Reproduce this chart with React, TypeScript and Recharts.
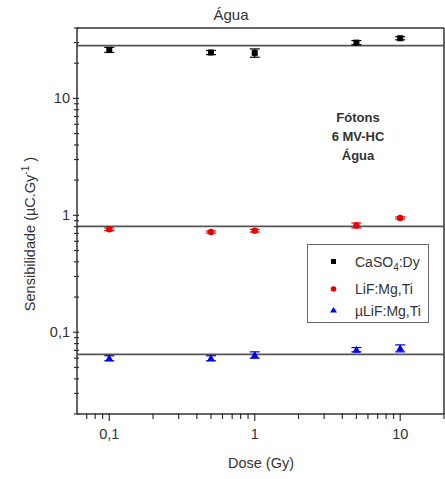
import React from 'react';
import { ComposedChart, Scatter, XAxis, YAxis, ErrorBar, ReferenceLine, Legend } from 'recharts';

const doses = [0.1, 0.5, 1, 5, 10];
const caso4 = [26, 24.7, 24.5, 30, 32.7];
const caso4Err = [1.3, 1.0, 2.0, 1.2, 1.0];
const lif = [0.76, 0.72, 0.74, 0.82, 0.95];
const lifErr = [0.02, 0.015, 0.02, 0.04, 0.02];
const ulif = [0.06, 0.06, 0.064, 0.071, 0.073];
const ulifErr = [0.003, 0.003, 0.004, 0.003, 0.005];
const fitLevels = [28.3, 0.805, 0.0648];

const xTicks = [0.07, 0.08, 0.09, 0.1, 0.2, 0.3, 0.4, 0.5, 0.6, 0.7, 0.8, 0.9, 1, 2, 3, 4, 5, 6, 7, 8, 9, 10, 20];
const yTicks = [0.02, 0.03, 0.04, 0.05, 0.06, 0.07, 0.08, 0.09, 0.1, 0.2, 0.3, 0.4, 0.5, 0.6, 0.7, 0.8, 0.9, 1, 2, 3, 4, 5, 6, 7, 8, 9, 10, 20, 30, 40];
const frameTicks = [1, 2, 3, 4, 5, 6, 7, 8, 9];
const majorTicks = [0.1, 1, 10];

const AXIS = '#333';
const FONT = '"Liberation Sans", Arial, sans-serif';

const toData = (vals: number[], errs: number[]) => doses.map((d, i) => ({ dose: d, value: vals[i], err: errs[i] }));

const fmt = (v: number) => String(v).replace('.', ',');

const LeftTick = ({ x, y, payload }: any) => {
  const major = majorTicks.includes(payload.value);
  return (
    <g>
      <line x1={x - (major ? 4 : 3)} x2={x + 2} y1={y} y2={y} stroke={AXIS} strokeWidth={1.2} />
      {major && (
        <text x={x - 7} y={y + 5} textAnchor="end" fontSize={14.5} fill={AXIS} fontFamily={FONT}>
          {fmt(payload.value)}
        </text>
      )}
    </g>
  );
};

const BottomTick = ({ x, y, payload }: any) => {
  const major = majorTicks.includes(payload.value);
  return (
    <g>
      <line x1={x} x2={x} y1={y - 1} y2={y + (major ? 7 : 5)} stroke={AXIS} strokeWidth={1.2} />
      {major && (
        <text x={x} y={y + 25} textAnchor="middle" fontSize={14.5} fill={AXIS} fontFamily={FONT}>
          {fmt(payload.value)}
        </text>
      )}
    </g>
  );
};

const TopTick = ({ x, y }: any) => <line x1={x} x2={x} y1={y} y2={y + 4} stroke={AXIS} strokeWidth={1.2} />;
const RightTick = ({ x, y }: any) => <line x1={x} x2={x - 5} y1={y} y2={y} stroke={AXIS} strokeWidth={1.2} />;

const Square = ({ cx, cy }: any) => <rect x={cx - 3} y={cy - 3} width={6} height={6} fill="#000" />;
const Dot = ({ cx, cy }: any) => <circle cx={cx} cy={cy} r={3.2} fill="#e60000" />;
const Tri = ({ cx, cy }: any) => <path d={`M${cx},${cy - 4} L${cx + 4},${cy + 3} L${cx - 4},${cy + 3} Z`} fill="#0000ee" />;

const LegendBox = () => (
  <div
    style={{
      width: 122,
      height: 79,
      boxSizing: 'border-box',
      border: '1px solid #666',
      background: '#fff',
      fontFamily: FONT,
      fontSize: 14,
      color: AXIS,
      position: 'relative',
    }}
  >
    <svg width={120} height={77} style={{ position: 'absolute', left: 0, top: 0 }}>
      <rect x={23} y={14} width={5} height={5} fill="#000" />
      <text x={47} y={22} fontSize={14} fill={AXIS} fontFamily={FONT}>
        CaSO<tspan dy={4} fontSize={10}>4</tspan><tspan dy={-4}>:Dy</tspan>
      </text>
      <circle cx={25.5} cy={44} r={2.8} fill="#e60000" />
      <text x={47} y={49} fontSize={14} fill={AXIS} fontFamily={FONT}>LiF:Mg,Ti</text>
      <path d="M25.5,62 L29,67.5 L22,67.5 Z" fill="#0000ee" />
      <text x={47} y={71} fontSize={14} fill={AXIS} fontFamily={FONT}>µLiF:Mg,Ti</text>
    </svg>
  </div>
);

export default function App() {
  return (
    <div style={{ position: 'absolute', left: 0, top: 0, background: '#fff' }}>
      <ComposedChart width={445} height={479} margin={{ top: 0, right: 0, bottom: 0, left: 0 }}>
        <XAxis
          xAxisId="bottom"
          dataKey="dose"
          type="number"
          scale="log"
          domain={[0.06, 20]}
          allowDataOverflow
          ticks={xTicks}
          interval={0}
          height={65}
          tickSize={0}
          tickMargin={0}
          tickLine={false}
          tick={<BottomTick />}
          axisLine={{ stroke: AXIS, strokeWidth: 1.5 }}
        />
        <XAxis
          xAxisId="top"
          orientation="top"
          type="number"
          domain={[0, 10]}
          ticks={frameTicks}
          interval={0}
          height={28}
          tickSize={0}
          tickMargin={0}
          tickLine={false}
          tick={<TopTick />}
          axisLine={{ stroke: AXIS, strokeWidth: 1.5 }}
        />
        <YAxis
          yAxisId="left"
          type="number"
          scale="log"
          domain={[0.02, 40]}
          allowDataOverflow
          ticks={yTicks}
          interval={0}
          width={77}
          tickSize={0}
          tickMargin={0}
          tickLine={false}
          tick={<LeftTick />}
          axisLine={{ stroke: AXIS, strokeWidth: 1.5 }}
        />
        <YAxis
          yAxisId="right"
          orientation="right"
          type="number"
          domain={[0, 10]}
          ticks={frameTicks}
          interval={0}
          width={1}
          tickSize={0}
          tickMargin={0}
          tickLine={false}
          tick={<RightTick />}
          axisLine={{ stroke: AXIS, strokeWidth: 1.5 }}
        />
        {fitLevels.map((v) => (
          <ReferenceLine key={v} xAxisId="bottom" yAxisId="left" y={v} stroke="#555" strokeWidth={1.8} />
        ))}
        <Scatter name="CaSO4:Dy" xAxisId="bottom" yAxisId="left" data={toData(caso4, caso4Err)} dataKey="value" shape={<Square />} isAnimationActive={false}>
          <ErrorBar dataKey="err" direction="y" width={5} stroke="#000" strokeWidth={1.2} isAnimationActive={false} />
        </Scatter>
        <Scatter name="LiF:Mg,Ti" xAxisId="bottom" yAxisId="left" data={toData(lif, lifErr)} dataKey="value" shape={<Dot />} isAnimationActive={false}>
          <ErrorBar dataKey="err" direction="y" width={5} stroke="#e60000" strokeWidth={1.2} isAnimationActive={false} />
        </Scatter>
        <Scatter name="µLiF:Mg,Ti" xAxisId="bottom" yAxisId="left" data={toData(ulif, ulifErr)} dataKey="value" shape={<Tri />} isAnimationActive={false}>
          <ErrorBar dataKey="err" direction="y" width={5} stroke="#0000ee" strokeWidth={1.2} isAnimationActive={false} />
        </Scatter>
        <Legend
          layout="vertical"
          align="center"
          verticalAlign="middle"
          content={<LegendBox />}
          wrapperStyle={{ position: 'absolute', left: 307, top: 244, width: 122, height: 79 }}
        />
        <text x={231} y={20} textAnchor="middle" fontSize={15} fill={AXIS} fontFamily={FONT}>Água</text>
        <text x={358} y={122} textAnchor="middle" fontSize={13} fontWeight="bold" fill={AXIS} fontFamily={FONT}>Fótons</text>
        <text x={358} y={141} textAnchor="middle" fontSize={13} fontWeight="bold" fill={AXIS} fontFamily={FONT}>6 MV-HC</text>
        <text x={358} y={160} textAnchor="middle" fontSize={13} fontWeight="bold" fill={AXIS} fontFamily={FONT}>Água</text>
        <text x={261} y={468} textAnchor="middle" fontSize={14.5} fill={AXIS} fontFamily={FONT}>Dose (Gy)</text>
        <text transform="translate(35,234) rotate(-90)" textAnchor="middle" fontSize={14.5} fill={AXIS} fontFamily={FONT}>
          Sensibilidade (µC.Gy<tspan dy={-6} fontSize={10}>-1</tspan><tspan dy={6}> )</tspan>
        </text>
      </ComposedChart>
    </div>
  );
}
